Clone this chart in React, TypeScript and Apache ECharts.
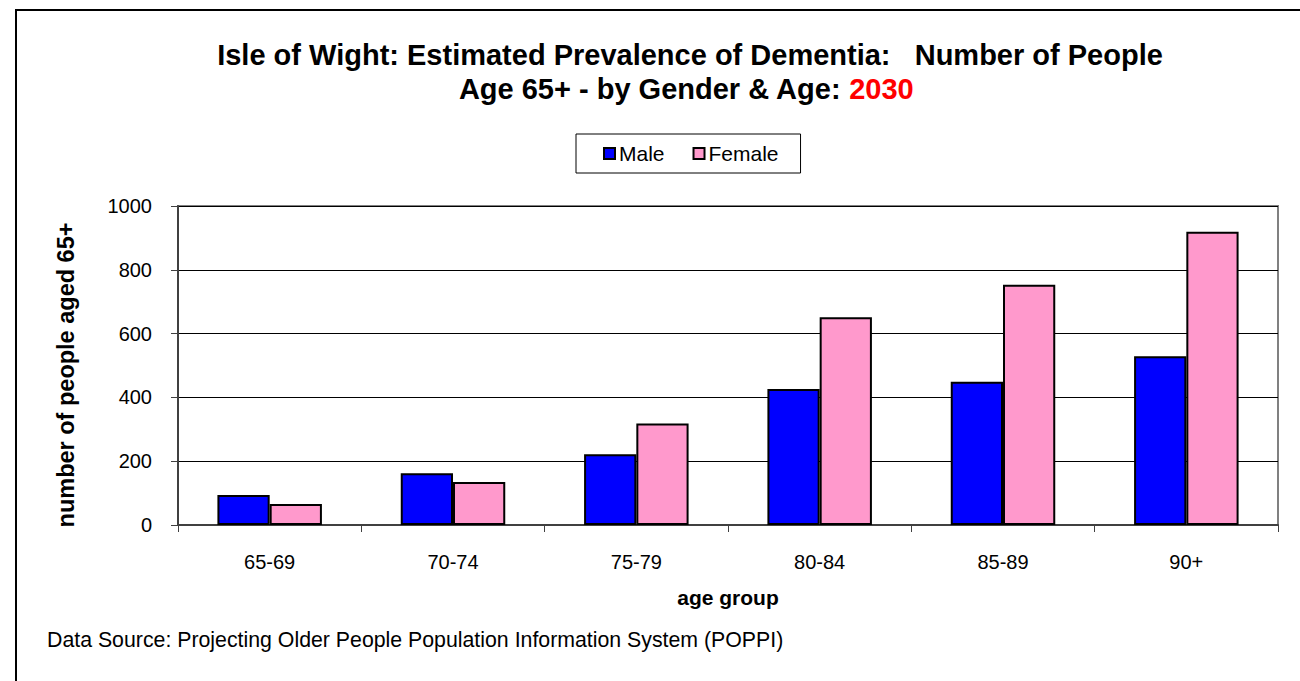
import React, { useEffect, useRef } from "react";
import * as echarts from "echarts";

const categories = ["65-69", "70-74", "75-79", "80-84", "85-89", "90+"];
const maleValues = [94, 162, 222, 426, 449, 529];
const femaleValues = [66, 135, 318, 651, 753, 919];
const seriesNames = ["Male", "Female"];
const titleLine1 = "Isle of Wight: Estimated Prevalence of Dementia:   Number of People";
const titleLine2 = "Age 65+ - by Gender & Age: ";
const titleYear = "2030";
const yAxisName = "number of people aged 65+";
const xAxisName = "age group";
const sourceText = "Data Source: Projecting Older People Population Information System (POPPI)";

const FONT = "Liberation Sans, Arial, Helvetica, sans-serif";

export default function App() {
  const ref = useRef<HTMLDivElement>(null);
  useEffect(() => {
    if (!ref.current) return;
    const chart = echarts.init(ref.current, null, { renderer: "svg" });
    chart.setOption({
      animation: false,
      backgroundColor: "#ffffff",
      textStyle: { fontFamily: FONT },
      grid: {
        left: 178,
        top: 206,
        right: 22,
        bottom: 156,
        show: true,
        borderColor: "#808080",
        borderWidth: 2,
        backgroundColor: "transparent",
      },
      legend: {
        data: seriesNames,
        left: 576,
        top: 134,
        orient: "horizontal",
        padding: [9, 22, 9, 27],
        itemGap: 28,
        itemWidth: 11,
        itemHeight: 11,
        icon: "rect",
        borderColor: "#000000",
        borderWidth: 1,
        backgroundColor: "#ffffff",
        textStyle: { fontSize: 21, color: "#000", fontFamily: FONT, padding: [0, 0, 0, -1] },
      },
      xAxis: {
        type: "category",
        data: categories,
        name: xAxisName,
        nameLocation: "middle",
        nameGap: 62,
        nameTextStyle: { fontSize: 21, fontWeight: "bold", color: "#000", fontFamily: FONT },
        axisLine: { show: true, lineStyle: { color: "#404040", width: 2 } },
        axisTick: { show: true, length: 7, lineStyle: { color: "#404040", width: 1 } },
        axisLabel: { fontSize: 20, color: "#000", margin: 27, fontFamily: FONT },
        splitLine: { show: false },
      },
      yAxis: {
        type: "value",
        min: 0,
        max: 1000,
        interval: 200,
        axisLine: { show: true, lineStyle: { color: "#404040", width: 2 } },
        axisTick: { show: true, length: 7, lineStyle: { color: "#404040", width: 1 } },
        axisLabel: {
          fontSize: 20,
          color: "#000",
          margin: 26,
          fontFamily: FONT,
          formatter: (v: number) => String(v),
        },
        splitLine: { show: true, lineStyle: { color: "#000000", width: 1 } },
      },
      series: [
        {
          name: seriesNames[0],
          type: "bar",
          data: maleValues,
          barGap: "0%",
          barCategoryGap: "43%",
          itemStyle: { color: "#0000FF", borderColor: "#000000", borderWidth: 2 },
        },
        {
          name: seriesNames[1],
          type: "bar",
          data: femaleValues,
          barGap: "0%",
          barCategoryGap: "43%",
          itemStyle: { color: "#FF99CC", borderColor: "#000000", borderWidth: 2 },
        },
      ],
      graphic: [
        {
          type: "rect",
          shape: { x: 16, y: 10, width: 1400, height: 800 },
          style: { fill: "none", stroke: "#000000", lineWidth: 2 },
          silent: true,
          z: -10,
        },
        {
          type: "text",
          x: 690,
          y: 55,
          style: {
            text: titleLine1,
            fontSize: 29,
            fontWeight: "bold",
            fontFamily: FONT,
            fill: "#000",
            align: "center",
            verticalAlign: "middle",
            textAlign: "center",
            textVerticalAlign: "middle",
          },
        },
        {
          type: "text",
          x: 686,
          y: 89,
          style: {
            text: titleLine2 + "{r|" + titleYear + "}",
            fontSize: 29,
            fontWeight: "bold",
            fontFamily: FONT,
            fill: "#000",
            align: "center",
            verticalAlign: "middle",
            textAlign: "center",
            textVerticalAlign: "middle",
            rich: {
              r: { fill: "#FF0000", fontSize: 29, fontWeight: "bold", fontFamily: FONT },
            },
          },
        },
        {
          type: "text",
          x: 66,
          y: 375,
          rotation: Math.PI / 2,
          style: {
            text: yAxisName,
            fontSize: 23.5,
            fontWeight: "bold",
            fontFamily: FONT,
            fill: "#000",
            align: "center",
            verticalAlign: "middle",
            textAlign: "center",
            textVerticalAlign: "middle",
          },
        },
        {
          type: "text",
          x: 47,
          y: 640,
          style: {
            text: sourceText,
            fontSize: 21.3,
            fontFamily: FONT,
            fill: "#000",
            align: "left",
            verticalAlign: "middle",
            textAlign: "left",
            textVerticalAlign: "middle",
          },
        },
      ],
    });
    return () => chart.dispose();
  }, []);
  return (
    <div
      ref={ref}
      style={{ position: "fixed", left: 0, top: 0, width: 1300, height: 681, background: "#fff" }}
    />
  );
}
